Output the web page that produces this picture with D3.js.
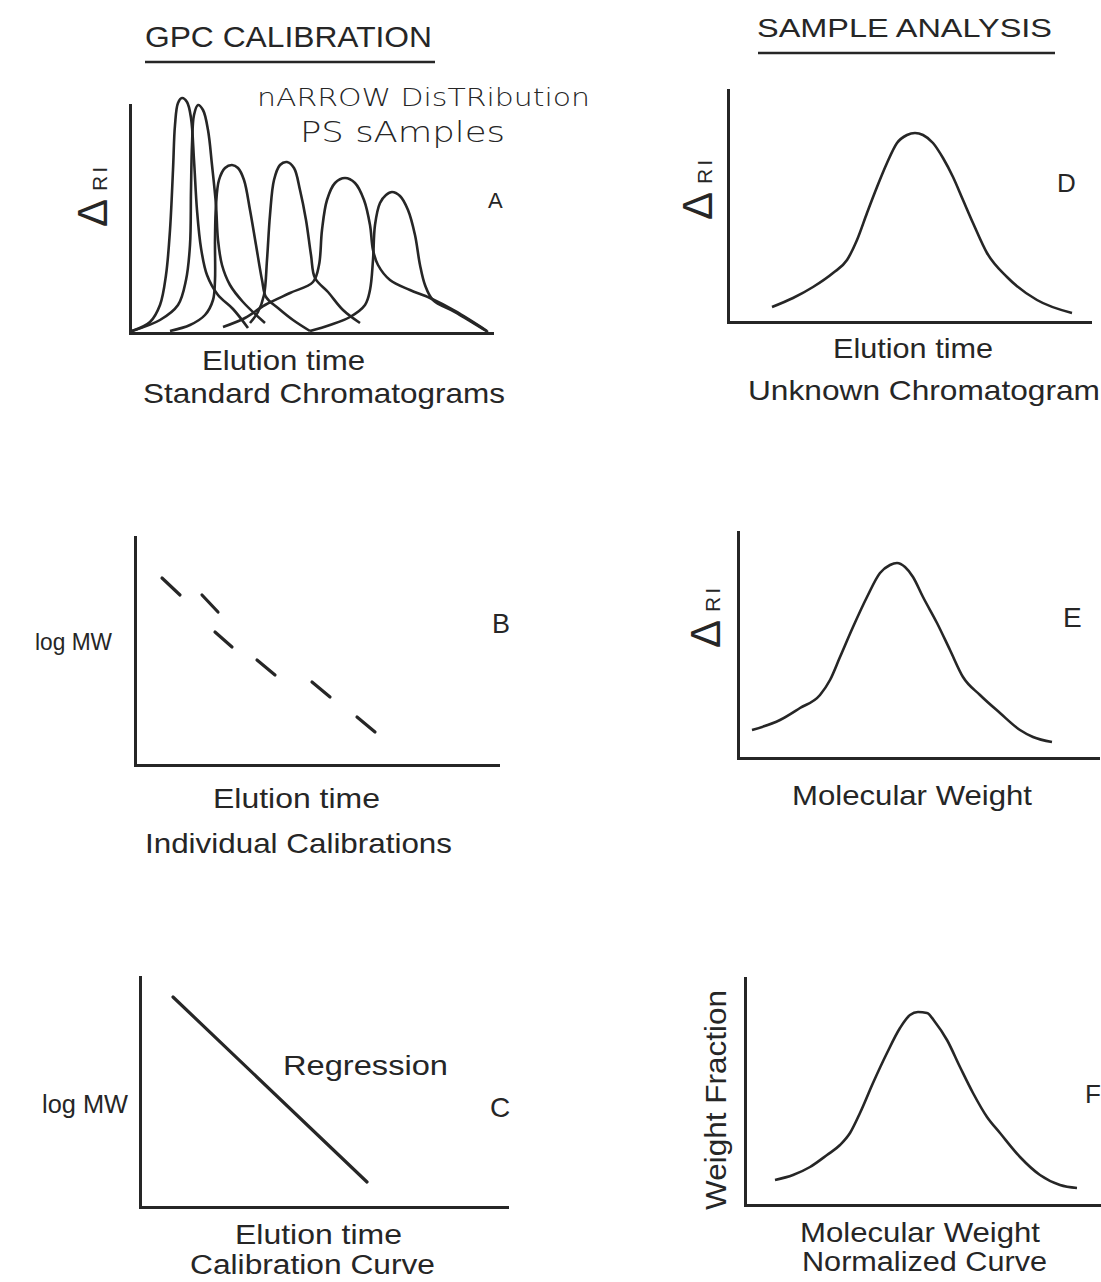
<!DOCTYPE html>
<html>
<head>
<meta charset="utf-8">
<script src="https://cdnjs.cloudflare.com/ajax/libs/d3/7.8.5/d3.min.js"></script>
<style>
  body { margin: 0; background: #fff; }
  svg text { font-family: "Liberation Sans", Arial, Helvetica, sans-serif; fill: #262626; }
  .hand { font-family: "DejaVu Sans", sans-serif; font-weight: 200; }
</style>
</head>
<body>
<svg width="1101" height="1282"></svg>
<script>
// ---- data (arbitrary units: elution time / detector response) ----
// A: standard chromatograms, six narrow PS standards
var stdPeak1 = [[0.2,0.2],[2.0,1.1],[3.0,2.8],[3.6,5.8],[4.0,10.3],[4.3,16.3],[4.5,20.8],[4.8,23.0],[5.2,23.5],[5.7,23.1],[6.1,21.5],[6.4,17.3],[6.7,12.3],[7.1,8.5],[7.7,5.8],[8.8,3.8],[10.3,2.4],[11.8,0.5]];
var stdPeak2 = [[0.2,0.2],[3.0,1.3],[4.8,2.8],[5.6,5.3],[6.0,8.8],[6.1,14.3],[6.2,18.8],[6.4,21.8],[6.8,22.8],[7.3,22.3],[7.8,20.3],[8.2,16.8],[8.6,12.8],[8.8,9.3],[9.2,6.8],[10.0,4.8],[11.3,3.1],[13.5,1.0]];
var stdPeak3 = [[4.0,0.2],[6.0,0.8],[7.5,1.8],[8.3,3.3],[8.5,5.3],[8.5,9.3],[8.6,12.8],[8.9,15.3],[9.5,16.5],[10.2,16.8],[10.8,16.5],[11.4,15.3],[12.0,12.3],[12.6,8.8],[13.2,5.3],[13.6,3.6],[14.8,2.5],[16.3,1.3],[18.0,0.2]];
var stdPeak4 = [[12.0,1.0],[12.8,2.1],[13.4,3.8],[13.7,7.3],[14.0,11.8],[14.4,15.3],[15.0,16.8],[15.7,17.1],[16.4,16.5],[17.0,14.3],[17.6,11.3],[18.1,7.8],[18.5,5.5],[19.8,4.1],[21.3,2.3],[23.0,1.0]];
var stdPeak5 = [[9.3,0.6],[11.5,1.5],[13.5,2.8],[16.0,4.0],[18.3,5.1],[18.9,6.8],[19.2,10.3],[19.7,13.3],[20.5,15.0],[21.5,15.5],[22.5,15.0],[23.4,13.3],[24.0,10.8],[24.3,8.3],[24.8,6.8],[26.0,5.3],[28.0,4.3],[30.0,3.5],[32.5,2.2],[35.7,0.2]];
var stdPeak6 = [[18.0,0.2],[20.0,0.8],[22.0,1.6],[23.5,2.8],[24.0,4.3],[24.3,7.3],[24.5,10.8],[25.0,13.0],[25.6,13.8],[26.2,14.1],[27.0,13.7],[27.8,12.3],[28.5,9.8],[29.0,6.8],[29.5,4.8],[30.3,3.3],[32.5,2.1],[35.8,0.1]];

// B: individual calibration segments [x1, y1, x2, y2]
var calibSegments = [[2.7,18.7,4.5,17.0],[6.7,17.0,8.3,15.3],[8.0,13.3,9.7,11.8],[12.2,10.5,14.0,9.0],[17.7,8.3,19.5,6.8],[22.2,4.8,24.0,3.3]];

// C: regression line
var regression = [[3.3,21.0],[22.7,2.5]];

// D: unknown chromatogram
var unknownCurve = [[4.4,1.5],[6.5,2.4],[8.5,3.5],[10.5,4.9],[11.9,6.2],[12.9,8.2],[13.9,10.9],[14.9,13.5],[15.9,15.9],[16.9,17.9],[17.9,18.7],[18.7,18.9],[19.5,18.7],[20.5,17.9],[21.5,16.4],[22.5,14.5],[23.5,12.2],[24.5,9.9],[25.9,6.9],[27.9,4.5],[30.9,2.2],[34.4,0.9]];

// E: response vs molecular weight
var mwCurve = [[1.4,2.8],[4.2,3.8],[6.2,5.0],[8.2,6.3],[9.2,7.8],[10.2,10.1],[11.5,13.1],[12.9,16.1],[14.2,18.5],[15.2,19.3],[15.9,19.5],[16.7,19.1],[17.5,18.1],[18.5,16.1],[19.9,13.5],[21.2,10.8],[22.5,8.1],[24.2,6.3],[26.2,4.5],[28.2,2.8],[29.5,2.1],[31.4,1.6]];

// F: normalized weight fraction curve
var normCurve = [[3.0,2.5],[4.8,3.0],[6.5,3.8],[8.2,5.0],[9.5,6.0],[10.5,7.2],[11.5,9.2],[12.8,12.2],[14.2,15.2],[15.5,17.7],[16.5,19.0],[17.3,19.3],[18.2,19.2],[19.0,18.3],[20.2,16.5],[21.5,13.8],[22.8,11.2],[24.2,8.8],[25.5,7.2],[27.5,4.8],[29.5,3.0],[31.5,2.0],[33.2,1.7]];

var ink = "#262626";
var svg = d3.select("svg");

// builds the scales and the two bare axes of one panel
function panel(x0, y0, w, h) {
    var x = d3.scaleLinear().domain([0, w / 10]).range([x0, x0 + w]);
    var y = d3.scaleLinear().domain([0, h / 10]).range([y0, y0 - h]);
    var g = svg.append("g");
    g.append("g")
        .attr("transform", "translate(0," + y0 + ")")
        .call(d3.axisBottom(x).tickValues([]).tickSizeOuter(0));
    g.append("g")
        .attr("transform", "translate(" + x0 + ",0)")
        .call(d3.axisLeft(y).tickValues([]).tickSizeOuter(0));
    g.selectAll(".domain")
        .attr("stroke", ink)
        .attr("stroke-width", 3)
        .attr("stroke-linecap", "square");
    var line = d3.line()
        .x(function(d) { return x(d[0]); })
        .y(function(d) { return y(d[1]); });
    return { g: g, x: x, y: y, line: line };
}

function curve(p, data, type) {
    p.g.append("path")
        .attr("d", p.line.curve(type || d3.curveCatmullRom.alpha(0.5))(data))
        .attr("fill", "none")
        .attr("stroke", ink)
        .attr("stroke-width", 2.6)
        .attr("stroke-linejoin", "round");
}

function label(x, y, str, size, anchor, len) {
    var t = svg.append("text")
        .attr("x", x).attr("y", y)
        .attr("font-size", size)
        .attr("text-anchor", anchor || "start")
        .text(str);
    if (len) t.attr("textLength", len).attr("lengthAdjust", "spacingAndGlyphs");
    return t;
}

// rotated "ΔRI" axis label
function deltaRI(x, y) {
    var t = svg.append("text")
        .attr("transform", "translate(" + x + "," + y + ") rotate(-90)");
    t.append("tspan").attr("font-size", 42).text("Δ");
    t.append("tspan").attr("font-size", 21).attr("dx", 8)
        .attr("letter-spacing", 3).text("RI");
}

function underline(x1, x2, y) {
    svg.append("line")
        .attr("x1", x1).attr("x2", x2).attr("y1", y).attr("y2", y)
        .attr("stroke", ink).attr("stroke-width", 2.6);
}

// ---- headings ----
label(145, 47, "GPC  CALIBRATION", 30, "start", 287);
underline(145, 435, 62);
label(757, 37, "SAMPLE  ANALYSIS", 26, "start", 295);
underline(758, 1055, 53);

// ---- A ----
var pA = panel(130, 333, 362, 228);
[stdPeak1, stdPeak2, stdPeak3, stdPeak4, stdPeak5, stdPeak6].forEach(function(d) { curve(pA, d); });
deltaRI(107, 227);
label(488, 208, "A", 22);
label(257, 106, "nARROW DisTRibution", 25, "start", 333).attr("class", "hand");
label(300, 142, "PS sAmples", 29, "start", 205).attr("class", "hand");
label(202, 370, "Elution time", 28, "start", 163);
label(143, 403, "Standard Chromatograms", 28, "start", 362);

// ---- B ----
var pB = panel(135, 765, 363, 228);
pB.g.selectAll(".seg")
    .data(calibSegments)
    .enter()
    .append("line")
        .attr("x1", function(d) { return pB.x(d[0]); })
        .attr("y1", function(d) { return pB.y(d[1]); })
        .attr("x2", function(d) { return pB.x(d[2]); })
        .attr("y2", function(d) { return pB.y(d[3]); })
        .attr("stroke", ink)
        .attr("stroke-width", 3.2)
        .attr("stroke-linecap", "round");
label(112, 650, "log MW", 24, "end", 77);
label(492, 633, "B", 27);
label(213, 808, "Elution time", 28, "start", 167);
label(145, 853, "Individual Calibrations", 28, "start", 307);

// ---- C ----
var pC = panel(140, 1207, 367, 230);
pC.g.append("path")
    .attr("d", pC.line.curve(d3.curveLinear)(regression))
    .attr("fill", "none")
    .attr("stroke", ink)
    .attr("stroke-width", 3.2)
    .attr("stroke-linecap", "round");
label(283, 1075, "Regression", 28, "start", 165);
label(128, 1113, "log MW", 25, "end", 86);
label(490, 1117, "C", 28);
label(235, 1244, "Elution time", 28, "start", 167);
label(190, 1274, "Calibration Curve", 27, "start", 245);

// ---- D ----
var pD = panel(728, 322, 362, 232);
curve(pD, unknownCurve, d3.curveMonotoneX);
deltaRI(712, 220);
label(1057, 192, "D", 26);
label(833, 358, "Elution time", 28, "start", 160);
label(748, 400, "Unknown Chromatogram", 28, "start", 352);

// ---- E ----
var pE = panel(738, 758, 360, 226);
curve(pE, mwCurve, d3.curveMonotoneX);
deltaRI(720, 648);
label(1063, 627, "E", 28);
label(792, 805, "Molecular Weight", 28, "start", 240);

// ---- F ----
var pF = panel(745, 1205, 356, 227);
curve(pF, normCurve, d3.curveMonotoneX);
svg.append("text")
    .attr("transform", "translate(726,1210) rotate(-90)")
    .attr("font-size", 30)
    .attr("textLength", 220)
    .attr("lengthAdjust", "spacingAndGlyphs")
    .text("Weight Fraction");
label(1085, 1103, "F", 26);
label(800, 1242, "Molecular Weight", 28, "start", 240);
label(802, 1271, "Normalized Curve", 27, "start", 245);
</script>
</body>
</html>
